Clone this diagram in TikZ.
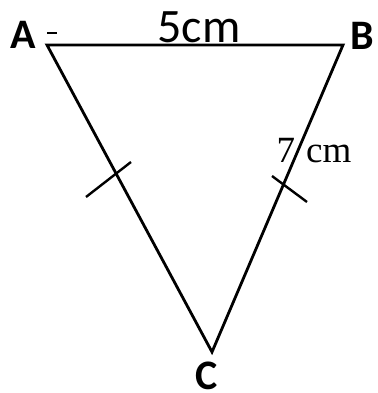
\documentclass[tikz,border=0pt]{standalone}
\usepackage{fontspec}
\setmainfont{Carlito}
\newfontfamily\serifface{Liberation Serif}
\usetikzlibrary{positioning}

\begin{document}
\begin{tikzpicture}[
        x=1pt, y=-1pt,
        side/.style={draw, line width=2.8pt, line join=miter},
        tick/.style={draw, line width=2.4pt},
        vlabel/.style={font=\fontsize{42}{44}\selectfont\bfseries, inner sep=0pt}
    ]
        \useasboundingbox[fill=white] (0,0) rectangle (377,393);

        % Vertices
        \coordinate (A) at (47,45);
        \coordinate (B) at (343,45);
        \coordinate (C) at (212,352);

        % Triangle
        \draw[side] (A) -- (B) -- (C) -- cycle;

        % Vertex labels
        \node[vlabel] (lblA) at (23,35) {A};
        \node[vlabel] (lblB) at (362,36) {B};
        \node[vlabel] (lblC) at (207,376) {C};

        % small mark next to A
        \coordinate (m1) at (47,33);
        \coordinate (m2) at (57,33);
        \draw[line width=1.6pt] (m1) -- (m2);

        % Side lengths
        \node[font=\fontsize{48}{50}\selectfont, inner sep=0pt] (ab) at (199,27) {5cm};
        \node[font=\serifface\fontsize{37}{40}\selectfont, inner sep=0pt] (bc) at (314,151) {7\hspace{11pt}cm};

        % Equal-side ticks
        \coordinate (t1a) at (86,197);
        \coordinate (t1b) at (131,162);
        \draw[tick] (t1a) -- (t1b);
        \coordinate (t2a) at (272,176);
        \coordinate (t2b) at (307,202);
        \draw[tick] (t2a) -- (t2b);

    \end{tikzpicture}
\end{document}
